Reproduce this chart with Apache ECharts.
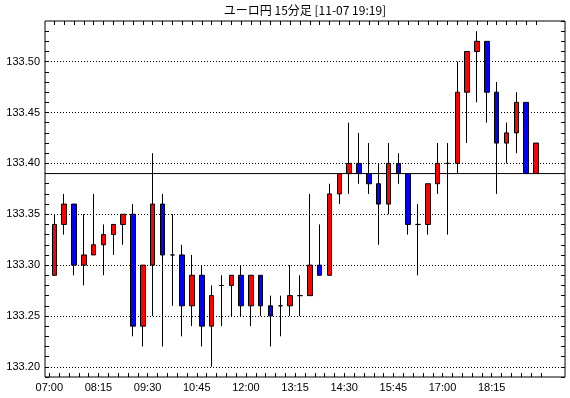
<!DOCTYPE html>
<html>
<head>
<meta charset="utf-8">
<style>
    html, body { margin: 0; padding: 0; background: #fff; }
    #candle-chart { width: 570px; height: 398px; }
</style>
<script src="https://cdn.jsdelivr.net/npm/echarts@6/dist/echarts.min.js"></script>
</head>
<body>
<div id="candle-chart"></div>
<script>
    // 15分足の時刻
    var times = [
        '07:00', '07:15', '07:30', '07:45', '08:00', '08:15', '08:30', '08:45', '09:00', '09:15',
        '09:30', '09:45', '10:00', '10:15', '10:30', '10:45', '11:00', '11:15', '11:30', '11:45',
        '12:00', '12:15', '12:30', '12:45', '13:00', '13:15', '13:30', '13:45', '14:00', '14:15',
        '14:30', '14:45', '15:00', '15:15', '15:30', '15:45', '16:00', '16:15', '16:30', '16:45',
        '17:00', '17:15', '17:30', '17:45', '18:00', '18:15', '18:30', '18:45', '19:00', '19:15'
    ];
    var opens = [
        133.29, 133.34, 133.36, 133.30, 133.31, 133.32, 133.33, 133.34, 133.35, 133.24,
        133.30, 133.36, 133.31, 133.31, 133.26, 133.29, 133.24, 133.28, 133.28, 133.29,
        133.26, 133.29, 133.26, 133.26, 133.26, 133.27, 133.27, 133.30, 133.29, 133.37,
        133.39, 133.40, 133.39, 133.38, 133.36, 133.40, 133.39, 133.34, 133.34, 133.38,
        133.40, 133.40, 133.47, 133.51, 133.52, 133.47, 133.42, 133.43, 133.46, 133.39
    ];
    var closes = [
        133.34, 133.36, 133.30, 133.31, 133.32, 133.33, 133.34, 133.35, 133.24, 133.30,
        133.36, 133.31, 133.31, 133.26, 133.29, 133.24, 133.27, 133.28, 133.29, 133.26,
        133.29, 133.26, 133.25, 133.26, 133.27, 133.27, 133.30, 133.29, 133.37, 133.39,
        133.40, 133.39, 133.38, 133.36, 133.40, 133.39, 133.34, 133.34, 133.38, 133.40,
        133.40, 133.47, 133.51, 133.52, 133.47, 133.42, 133.43, 133.46, 133.39, 133.42
    ];
    var lows = [
        133.29, 133.33, 133.29, 133.28, 133.31, 133.29, 133.31, 133.32, 133.23, 133.22,
        133.25, 133.22, 133.26, 133.23, 133.24, 133.22, 133.20, 133.24, 133.25, 133.25,
        133.24, 133.25, 133.22, 133.23, 133.25, 133.25, 133.27, 133.29, 133.29, 133.36,
        133.37, 133.38, 133.37, 133.32, 133.35, 133.38, 133.33, 133.29, 133.33, 133.37,
        133.33, 133.39, 133.42, 133.46, 133.44, 133.37, 133.40, 133.41, 133.39, 133.39
    ];
    var highs = [
        133.35, 133.37, 133.36, 133.35, 133.37, 133.34, 133.34, 133.35, 133.36, 133.30,
        133.41, 133.37, 133.35, 133.32, 133.31, 133.30, 133.28, 133.29, 133.29, 133.30,
        133.29, 133.29, 133.27, 133.27, 133.30, 133.29, 133.37, 133.34, 133.38, 133.39,
        133.44, 133.43, 133.42, 133.40, 133.42, 133.41, 133.39, 133.36, 133.38, 133.42,
        133.42, 133.50, 133.51, 133.53, 133.52, 133.48, 133.44, 133.47, 133.46, 133.42
    ];
    // 横線の水準
    var refLevel = 133.39;
    var yMin = 133.19;
    var yMax = 133.54;

    var candles = times.map(function (t, i) {
        return [opens[i], closes[i], lows[i], highs[i]];
    });

    var labelFont = {
        color: '#000',
        fontFamily: 'Liberation Sans, Arial, sans-serif',
        fontSize: 11
    };

    var myChart = echarts.init(document.getElementById('candle-chart'));
    var options = {
        animation: false,
        backgroundColor: '#fff',
        title: {
            text: 'ユーロ円 15分足 [11-07 19:19]',
            left: 305,
            textAlign: 'center',
            top: 4,
            padding: 0,
            textStyle: {
                fontFamily: 'Noto Sans CJK JP',
                fontSize: 12,
                fontWeight: 'normal',
                color: '#000'
            }
        },
        grid: [
            {left: 45, right: 5, top: 21, bottom: 21, show: true,
                borderColor: '#000', borderWidth: 1, backgroundColor: '#fff'},
            {left: 49.4, width: 491.5, top: 21, bottom: 21}
        ],
        xAxis: [
            {gridIndex: 0, type: 'value', min: 0, max: 1, show: false},
            {
                gridIndex: 1,
                type: 'category',
                data: times,
                position: 'bottom',
                boundaryGap: true,
                axisLine: {show: false},
                axisTick: {show: true, inside: true, length: 4, interval: 0,
                    lineStyle: {color: '#000'}},
                axisLabel: Object.assign({interval: 4, margin: 5, padding: [0, 10, 0, 0]}, labelFont),
                splitLine: {show: false}
            },
            {
                gridIndex: 1,
                type: 'category',
                data: times,
                position: 'top',
                boundaryGap: true,
                axisLine: {show: false},
                axisTick: {show: true, inside: true, length: 4, interval: 0, alignWithLabel: true,
                    lineStyle: {color: '#000'}},
                axisLabel: {show: false},
                splitLine: {show: false}
            }
        ],
        yAxis: [
            {
                gridIndex: 0,
                type: 'value',
                min: yMin,
                max: yMax,
                interval: 0.01,
                position: 'left',
                axisLine: {show: false},
                axisTick: {show: true, inside: true, length: 4, lineStyle: {color: '#000'}},
                axisLabel: Object.assign({
                    margin: 5,
                    showMaxLabel: false,
                    formatter: function (v) {
                        return Math.round(v * 100) % 5 === 0 ? v.toFixed(2) : '';
                    }
                }, labelFont),
                splitLine: {
                    show: true,
                    lineStyle: {
                        color: ['rgba(0,0,0,0)', '#000', 'rgba(0,0,0,0)', 'rgba(0,0,0,0)', 'rgba(0,0,0,0)'],
                        width: 1,
                        type: [1, 2]
                    }
                }
            },
            {
                gridIndex: 0,
                type: 'value',
                min: yMin,
                max: yMax,
                interval: 0.01,
                position: 'right',
                axisLine: {show: false},
                axisTick: {show: true, inside: true, length: 4, lineStyle: {color: '#000'}},
                axisLabel: {show: false},
                splitLine: {show: false}
            },
            {gridIndex: 1, type: 'value', min: yMin, max: yMax, show: false}
        ],
        series: [
            {
                type: 'line',
                xAxisIndex: 0,
                yAxisIndex: 0,
                data: [[0, refLevel], [1, refLevel]],
                symbol: 'none',
                silent: true,
                lineStyle: {color: '#000', width: 1},
                z: 1
            },
            {
                type: 'candlestick',
                xAxisIndex: 1,
                yAxisIndex: 2,
                data: candles,
                barWidth: 5,
                itemStyle: {
                    color: '#ff0000',
                    color0: '#0000ff',
                    borderColor: '#000',
                    borderColor0: '#000',
                    borderColorDoji: '#000',
                    borderWidth: 1
                },
                z: 3
            }
        ]
    };
    myChart.setOption(options);
</script>
</body>
</html>
